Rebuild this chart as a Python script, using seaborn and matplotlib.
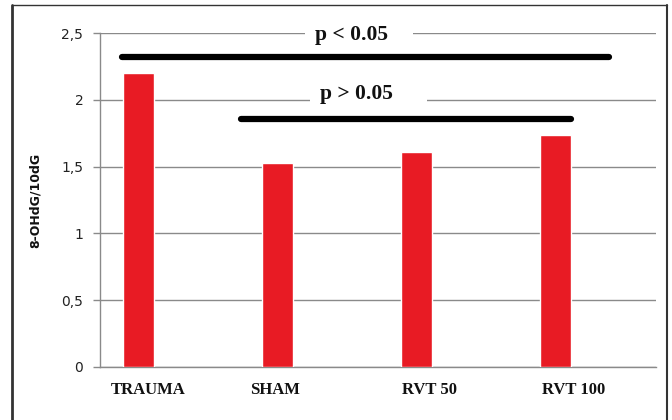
import matplotlib
matplotlib.use("Agg")
import matplotlib.pyplot as plt
from matplotlib.lines import Line2D
from matplotlib.patches import Rectangle
from matplotlib.transforms import ScaledTranslation
import seaborn as sns
import pandas as pd

# Oxidative DNA damage marker per group
groups = ["TRAUMA", "SHAM", "RVT 50", "RVT 100"]
ohdg = [2.20, 1.53, 1.61, 1.74]
y_ticks = [0, 0.5, 1, 1.5, 2, 2.5]
y_tick_labels = ["0", "0,5", "1", "1,5", "2", "2,5"]

# Significance brackets: label, bracket start/end (category units), bracket height, label height
bracket_labels = ["p < 0.05", "p > 0.05"]
bracket_x = [(-0.12, 3.385), (0.737, 3.11)]
bracket_y = [2.32, 1.86]
label_y = [2.485, 2.04]

df = pd.DataFrame({"group": groups, "value": ohdg})

sns.set_theme(style="white")
plt.rcParams["font.family"] = ["DejaVu Sans"]

fig = plt.figure(figsize=(6.72, 4.2), dpi=100)
ax = fig.add_axes([0.1488, 0.1262, 0.8274, 0.7952])

sns.barplot(data=df, x="group", y="value", color="#E81B24", width=0.216,
            saturation=1, ax=ax, zorder=3)

ax.set_ylim(0, 2.5)
ax.set_xlim(-0.277, 3.723)
ax.set_yticks(y_ticks)
ax.set_yticklabels(y_tick_labels)
ax.yaxis.grid(True, color="#8a8a8a", linewidth=1.0, zorder=0)
ax.set_axisbelow(True)

for side in ("top", "right"):
    ax.spines[side].set_visible(False)
for side in ("left", "bottom"):
    ax.spines[side].set_color("#8a8a8a")
    ax.spines[side].set_linewidth(1.0)

ax.tick_params(axis="y", which="both", left=True, length=5, width=1,
               color="#8a8a8a", pad=7, labelsize=10, labelcolor="#222222")
ax.tick_params(axis="x", length=0, pad=11)
# category labels sit slightly off the bar centres
label_shift_pt = [7, -2, 9, 13]
for lbl, dx in zip(ax.get_xticklabels(), label_shift_pt):
    lbl.set_fontfamily(["Liberation Serif"])
    lbl.set_fontweight("bold")
    lbl.set_fontsize(12)
    lbl.set_color("#111111")
    lbl.set_transform(lbl.get_transform() +
                      ScaledTranslation(dx / 72, 0, fig.dpi_scale_trans))

ax.set_xlabel("")
ax.set_ylabel("8-OHdG/10dG", fontsize=9, fontweight="bold", color="#111111")
ax.yaxis.set_label_coords(-0.104, 0.5)

# Brackets with their labels sitting on a white gap in the grid line
masks = [(1.198, 1.975), (1.234, 2.075)]
for text, (x0, x1), h, th, (m0, m1) in zip(bracket_labels, bracket_x,
                                            bracket_y, label_y, masks):
    ax.plot([x0, x1], [h, h], color="black", linewidth=4.5,
            solid_capstyle="round", zorder=6, clip_on=False)
    ax.add_patch(Rectangle((m0, th - 0.06), m1 - m0, 0.12, facecolor="white",
                           edgecolor="none", zorder=4, clip_on=False))
    ax.text(m0 + 0.075, th, text, ha="left", va="center",
            fontsize=15.5, fontweight="bold", family=["Liberation Serif"],
            color="#111111", zorder=5, clip_on=False)

# Frame around the chart area
for xs, ys, lw in [([12 / 672, 12 / 672], [0, 1 - 5 / 420], 2.0),
                   ([12 / 672, 667 / 672], [1 - 5 / 420, 1 - 5 / 420], 1.0),
                   ([667 / 672, 667 / 672], [0, 1 - 5 / 420], 1.5)]:
    fig.add_artist(Line2D(xs, ys, transform=fig.transFigure,
                          color="#333333", linewidth=lw))

fig.savefig("out.png", dpi=100)
